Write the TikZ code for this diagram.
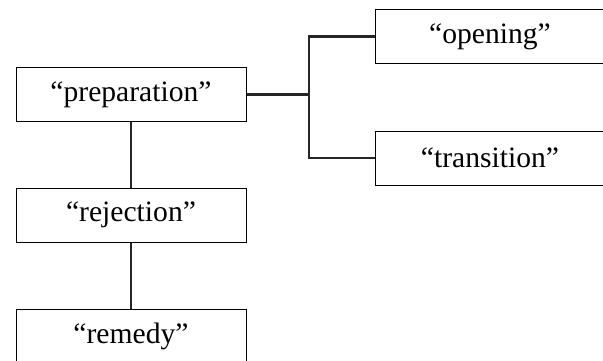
\documentclass[tikz,border=0pt]{standalone}
\usepackage{fontspec}
\setmainfont{Liberation Serif}
\tikzset{
  stage/.style={draw, line width=0.5pt, inner sep=0pt,
    minimum width=115pt, minimum height=27pt,
    font=\fontsize{14.8}{17}\selectfont},
  link/.style={line width=1.2pt, draw=black!85}
}
\begin{document}
\begin{tikzpicture}[x=0.5pt,y=-0.5pt]
      \path[use as bounding box, clip] (0,0) rectangle (603,360);
      \draw
        (131,94.5) node[stage] (prep){“preparation”}
        (131,215) node[stage] (rej){“rejection”}
        (131,336) node[stage] (rem){“remedy”}
        (490,36.5) node[stage] (open){“opening”}
        (490,158) node[stage] (trans){“transition”};
      \coordinate (fork) at (309,94.5);
      \begin{scope}[link]
        \draw (prep) to (rej);
        \draw (rej) to (rem);
        \draw (prep) to (fork);
        \draw (open.west) -| (fork);
        \draw (trans.west) -| (fork);
      \end{scope}
    \end{tikzpicture}
\end{document}
